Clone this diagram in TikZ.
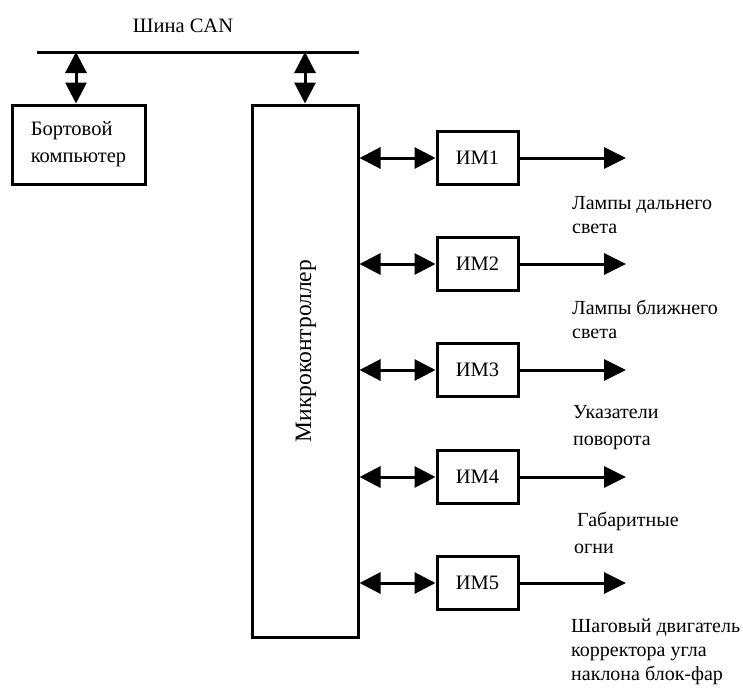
\documentclass[tikz,border=0pt]{standalone}
\usepackage{fontspec}
\setmainfont{Liberation Serif}
\usetikzlibrary{arrows.meta}
\begin{document}
\begin{tikzpicture}[x=1pt,y=-1pt,
  every node/.style={font=\fontsize{20.5}{25}\selectfont},
  blk/.style={draw,line width=3pt,inner sep=0pt},
  im/.style={blk,minimum width=81pt,minimum height=53pt},
  lbl/.style={anchor=base west,inner sep=0pt,align=left,font=\fontsize{20}{25}\selectfont},
  wire/.style={line width=3pt},
  dbl/.style={wire,{Triangle[length=21pt,width=21pt]}-{Triangle[length=21pt,width=21pt]}},
  outarrow/.style={wire,-{Triangle[length=22pt,width=21pt]}}
]
\useasboundingbox (0,0) rectangle (743,688);
% bus
\coordinate (busL) at (37,52);
\coordinate (busR) at (359,52);
\draw[wire] (busL) -- (busR);
\node[inner sep=0pt,anchor=base] (buslbl) at (183,32) {Шина CAN};
\coordinate (tapA) at (76,52);
\coordinate (tapB) at (305,52);
% on-board computer
\node[blk,minimum width=133pt,minimum height=79pt,align=left,
      font=\fontsize{20.5}{27}\selectfont] (bort) at (78.5,144.5) {Бортовой\\компьютер};
% microcontroller
\node[blk,minimum width=106pt,minimum height=532pt] (mcu) at (305,371) {};
\node[rotate=90,inner sep=0pt,font=\fontsize{23.5}{28}\selectfont] (mculbl) at (306,351) {Микроконтроллер};
\draw[dbl] (tapA) -- (tapA |- bort.north);
\draw[dbl] (tapB) -- (mcu.north);
% actuators
\foreach \i/\y in {1/158,2/264,3/370,4/477,5/583}{
  \node[im] (im\i) at (477.5,\y) {ИМ\i};
  \coordinate (o\i) at (626,\y);
  \draw[dbl] (mcu.east |- im\i.west) -- (im\i.west);
  \draw[outarrow] (im\i.east) -- (o\i);
}
% labels
\node[lbl] (l1a) at (572,209) {Лампы дальнего};
\node[lbl] (l1b) at (572,233) {света};
\node[lbl] (l2a) at (572,314) {Лампы ближнего};
\node[lbl] (l2b) at (572,338) {света};
\node[lbl] (l3a) at (573,418) {Указатели};
\node[lbl] (l3b) at (573,445) {поворота};
\node[lbl] (l4a) at (577,526) {Габаритные};
\node[lbl] (l4b) at (574,553) {огни};
\node[lbl] (l5a) at (571,632) {Шаговый двигатель};
\node[lbl] (l5b) at (571,656) {корректора угла};
\node[lbl] (l5c) at (571,680) {наклона блок-фар};
\end{tikzpicture}
\end{document}
